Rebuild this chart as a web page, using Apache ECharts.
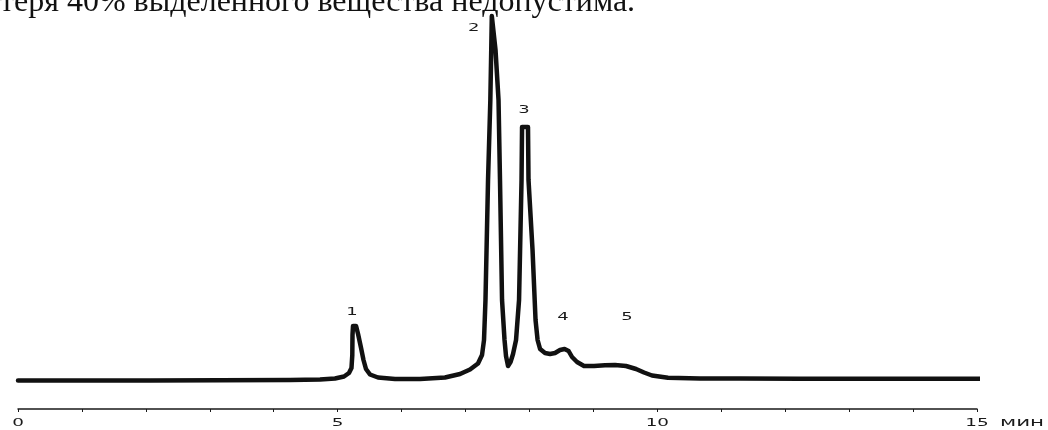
<!DOCTYPE html>
<html>
<head>
<meta charset="utf-8">
<script src="https://cdn.jsdelivr.net/npm/echarts@6/dist/echarts.min.js"></script>
<style>
html,body{margin:0;padding:0;background:#fff;}
#chart{width:1048px;height:430px;}
</style>
</head>
<body>
<div id="chart"></div>
<script>
// retention time, min
const times = [0, 2.065, 4.255, 4.724, 4.958, 5.099, 5.177, 5.216, 5.229, 5.232, 5.240, 5.288, 5.319, 5.366, 5.404, 5.443, 5.506, 5.631, 5.897, 6.288, 6.679, 6.914, 7.070, 7.195, 7.258, 7.289, 7.312, 7.352, 7.388, 7.402, 7.411, 7.433, 7.469, 7.516, 7.539, 7.571, 7.610, 7.633, 7.665, 7.704, 7.743, 7.790, 7.837, 7.876, 7.884, 7.977, 7.985, 8.048, 8.095, 8.127, 8.166, 8.243, 8.322, 8.400, 8.478, 8.549, 8.612, 8.666, 8.744, 8.853, 9.010, 9.182, 9.338, 9.510, 9.667, 9.792, 9.917, 10.167, 10.668, 11.294, 12.232, 13.796, 15.079];
// detector signal, arbitrary units
const signal = [7.125, 7.125, 7.25, 7.375, 7.625, 8.125, 9, 10.25, 13.5, 18.5, 20.75, 20.75, 18.75, 15.25, 12.25, 10, 8.625, 7.875, 7.5, 7.5, 7.875, 8.75, 9.875, 11.375, 13.5, 17.25, 27.25, 57.25, 77.25, 89.75, 98.25, 98.25, 89.75, 77.25, 57.25, 27.25, 17.25, 13.25, 10.75, 11.75, 13.75, 17.25, 27.25, 57.25, 70.5, 70.5, 57.25, 39.75, 22.25, 17.25, 15, 14, 13.75, 14, 14.75, 15, 14.5, 13, 11.75, 10.75, 10.75, 10.925, 11, 10.75, 10, 9.125, 8.375, 7.8, 7.6, 7.6, 7.575, 7.575, 7.575];
// peak numbers and where they are written
const peakNames = ['1', '2', '3', '4', '5'];
const peakLabelTime = [5.225, 7.13, 7.915, 8.525, 9.527];
const peakLabelSignal = [24.25, 95.1, 74.75, 23, 23];
// axis tick labels
const tickValues = [0, 5, 10, 15];
const tickLabels = ['0', '5', '10', '15'];
const unitText = 'мин';
const headerText = 'теря 40% выделенного вещества недопустима.';

const chart = echarts.init(document.getElementById('chart'), null, {renderer: 'canvas'});
const seriesData = times.map((t, i) => [t, signal[i]]);

chart.setOption({
  animation: false,
  backgroundColor: '#ffffff',
  grid: {left: 18, right: 71, top: 9, bottom: 21, containLabel: false},
  xAxis: {
    type: 'value', min: 0, max: 15, interval: 1,
    axisLine: {show: true, lineStyle: {color: '#1a1a1a', width: 1.5}},
    axisTick: {show: true, length: 3, lineStyle: {color: '#1a1a1a', width: 1}},
    splitLine: {show: false},
    axisLabel: {show: false}
  },
  yAxis: {type: 'value', min: 0, max: 100, show: false},
  series: [{
    type: 'line', data: seriesData, showSymbol: false, smooth: false, clip: false,
    lineStyle: {color: '#111111', width: 4.5, join: 'round', cap: 'round'}
  }]
});

const labelFont = '10px "DejaVu Sans"';
const graphics = [{
  type: 'text', left: 0, top: -13, silent: true,
  style: {text: headerText, font: '32px "Liberation Serif"', fill: '#111'}
}];
// peak numbers, positioned through the chart's own scales
peakNames.forEach((n, i) => {
  const p = chart.convertToPixel({gridIndex: 0}, [peakLabelTime[i], peakLabelSignal[i]]);
  graphics.push({
    type: 'text', x: p[0], y: p[1], scaleX: 1.8, silent: true,
    style: {text: n, font: labelFont, fill: '#1a1a1a', align: 'center', verticalAlign: 'middle'}
  });
});
// axis tick labels, positioned by the x axis scale
const axisY = chart.convertToPixel({yAxisIndex: 0}, 0);
tickValues.forEach((v, i) => {
  const px = chart.convertToPixel({xAxisIndex: 0}, v);
  graphics.push({
    type: 'text', x: px, y: axisY + 14.5, scaleX: 1.75, silent: true,
    style: {text: tickLabels[i], font: '10.5px "DejaVu Sans"', fill: '#1a1a1a', align: 'center', verticalAlign: 'middle'}
  });
});
const p15 = chart.convertToPixel({xAxisIndex: 0}, 15);
graphics.push({
  type: 'text', x: p15 + 23, y: axisY + 13.5, scaleX: 1.65, silent: true,
  style: {text: unitText, font: '13px "DejaVu Sans"', fill: '#1a1a1a', align: 'left', verticalAlign: 'middle'}
});
chart.setOption({graphic: graphics});
</script>
</body>
</html>
